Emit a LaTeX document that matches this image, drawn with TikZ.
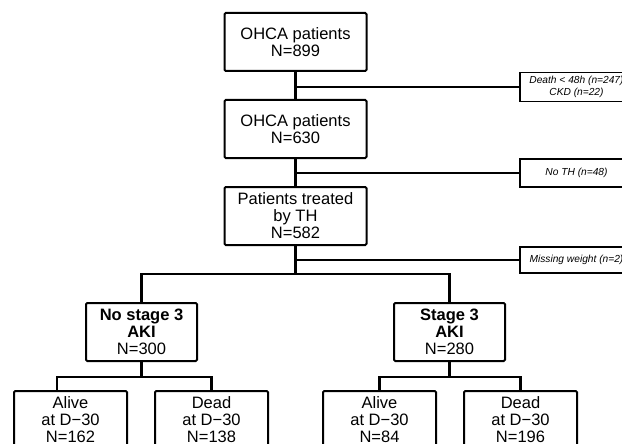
\documentclass[tikz,border=0pt]{standalone}
\usepackage{fontspec}
\setmainfont{Liberation Sans}
\begin{document}
\begin{tikzpicture}[x=1pt,y=-1pt,
  mainbox/.style={draw=black,line width=2pt,rounded corners=1.2pt,align=center,inner sep=0pt,
    font=\fontsize{16.5}{17}\selectfont,minimum height=58pt},
  topbox/.style={mainbox,minimum width=142pt},
  midbox/.style={mainbox,minimum width=111pt},
  botbox/.style={mainbox,minimum width=113pt},
  sidebox/.style={draw=black,line width=1.1pt,align=center,inner sep=0pt,minimum width=113pt,
    font=\fontsize{10.2}{11.5}\selectfont\itshape},
  conn/.style={line width=2.2pt,line cap=rect}]
\useasboundingbox (0,0) rectangle (622,444);
\clip (0,0) rectangle (622,444);
\fill[white] (0,0) rectangle (622,444);
% main column
\node[topbox] (b1) at (295.5,42) {OHCA patients\\N=899};
\node[topbox] (b2) at (295.5,129) {OHCA patients\\N=630};
\node[topbox] (b3) at (295.5,216) {Patients treated\\by TH\\N=582};
% side boxes
\node[sidebox,minimum height=29pt] (s1) at (576.5,87) {Death {\textless} 48h (n=247)\\CKD (n=22)};
\node[sidebox,minimum height=28pt] (s2) at (576.5,173) {No TH (n=48)};
\node[sidebox,minimum height=26pt] (s3) at (576.5,260) {Missing weight (n=2)};
% second level
\node[midbox] (L) at (141.5,332) {\textbf{No stage 3}\\\textbf{AKI}\\N=300};
\node[midbox] (R) at (449.5,332) {\textbf{Stage 3}\\\textbf{AKI}\\N=280};
% third level
\node[botbox] (A1) at (70.5,420) {Alive\\at D−30\\N=162};
\node[botbox] (D1) at (211.5,420) {Dead\\at D−30\\N=138};
\node[botbox] (A2) at (379.5,420) {Alive\\at D−30\\N=84};
\node[botbox] (D2) at (520.5,420) {Dead\\at D−30\\N=196};
% junctions
\coordinate (j1) at (295.5,274);
\coordinate (j2) at (141.5,377);
\coordinate (j3) at (449.5,377);
\coordinate (a1in) at (57,391);
% connectors
\draw[conn] (b1.south) -- (b2.north);
\draw[conn] (b2.south) -- (b3.north);
\draw[conn] (b3.south) -- (j1);
\draw[conn] (b1.south |- s1.west) -- (s1.west);
\draw[conn] (b2.south |- s2.west) -- (s2.west);
\draw[conn] (b3.south |- s3.west) -- (s3.west);
\draw[conn,line cap=butt] (L.north) |- (j1) -| (R.north);
\draw[conn] (L.south) -- (j2);
\draw[conn] (R.south) -- (j3);
\draw[conn,line cap=butt] (a1in) |- (j2) -| (D1.north);
\draw[conn,line cap=butt] (A2.north) |- (j3) -| (D2.north);
\end{tikzpicture}
\end{document}
